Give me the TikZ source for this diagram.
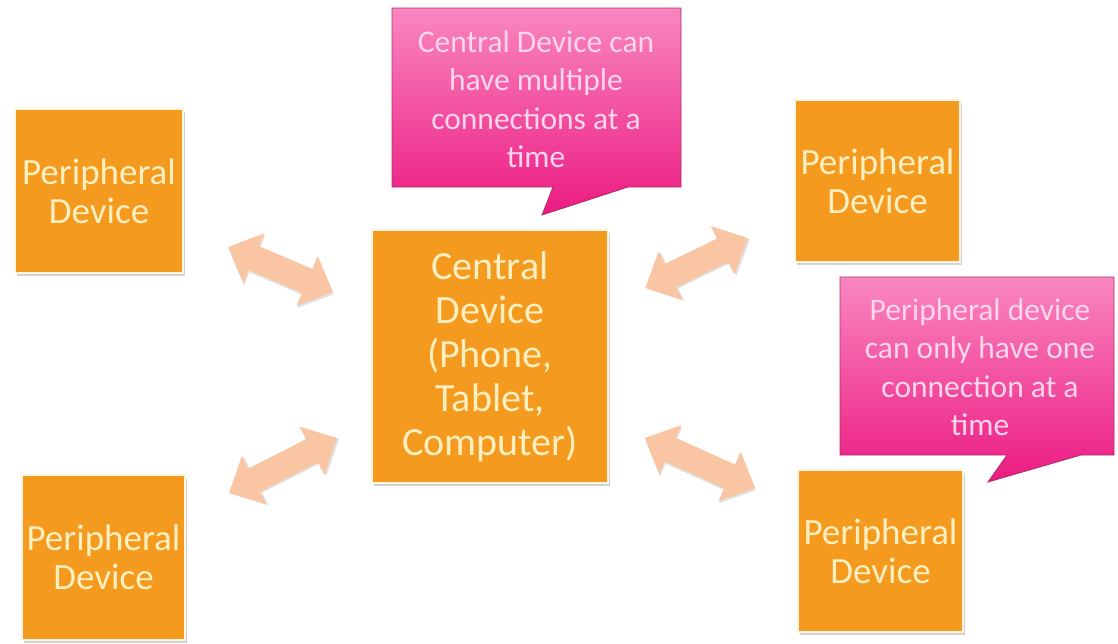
\documentclass[tikz,border=0pt]{standalone}
\usepackage{fontspec}
\setmainfont{Carlito}
\usetikzlibrary{shadows}
\definecolor{boxorange}{HTML}{F39A1F}
\definecolor{boxtext}{HTML}{FDEFC0}
\definecolor{boxedge}{HTML}{FFF6E2}
\definecolor{arrowpeach}{HTML}{F9C5A2}
\definecolor{calltop}{HTML}{F987BF}
\definecolor{callbot}{HTML}{EC1A82}
\definecolor{calledge}{HTML}{A8306C}
\definecolor{calltextc}{HTML}{FCD6EA}
\tikzset{
  devbox/.style={rectangle, fill=boxorange, draw=boxedge, line width=1.5pt,
    text=boxtext, align=center, inner sep=0pt,
    drop shadow={shadow xshift=2pt, shadow yshift=-3pt, fill=black!40, opacity=0.45}},
  perifont/.style={font=\fontsize{37}{39}\selectfont},
  centfont/.style={font=\fontsize{40}{44}\selectfont},
  callshape/.style={draw=calledge, line width=0.8pt, top color=calltop, bottom color=callbot},
  calltext/.style={text=calltextc, align=center, inner sep=0pt, font=\fontsize{31.5}{38.5}\selectfont},
  pics/dblarrow/.style={code={
    \fill[black!30, opacity=0.4, shift={(1.5,1.8)}]
      (-#1/2,0) -- (-#1/2+28,-27) -- (-#1/2+28,-13) -- (#1/2-28,-13) -- (#1/2-28,-27) --
      (#1/2,0) -- (#1/2-28,27) -- (#1/2-28,13) -- (-#1/2+28,13) -- (-#1/2+28,27) -- cycle;
    \fill[arrowpeach]
      (-#1/2,0) -- (-#1/2+28,-27) -- (-#1/2+28,-13) -- (#1/2-28,-13) -- (#1/2-28,-27) --
      (#1/2,0) -- (#1/2-28,27) -- (#1/2-28,13) -- (-#1/2+28,13) -- (-#1/2+28,27) -- cycle;
  }}
}
\begin{document}
\begin{tikzpicture}[x=1pt, y=-1pt]
  \fill[white] (0,0) rectangle (1118,643);
  \useasboundingbox (0,0) rectangle (1118,643);

  % device boxes
  \node[devbox, perifont, minimum width=168pt, minimum height=164pt] (p1) at (99,191) {Peripheral\\Device};
  \node[devbox, perifont, minimum width=163pt, minimum height=165pt] (p2) at (103.5,557.5) {Peripheral\\Device};
  \node[devbox, perifont, minimum width=165pt, minimum height=162pt] (p3) at (877.5,181) {Peripheral\\Device};
  \node[devbox, perifont, minimum width=165pt, minimum height=162pt] (p4) at (880.5,551) {Peripheral\\Device};
  \node[devbox, centfont, minimum width=236pt, minimum height=253pt] (c) at (490,356.5) {Central\\Device\\(Phone,\\Tablet,\\Computer)};

  % double block arrows
  \pic (a1) [rotate=-23.2] at (280.5,269.5) {dblarrow=114};
  \pic (a2) [rotate=27]    at (283,465.5)   {dblarrow=121};
  \pic (a3) [rotate=25.9]  at (696.5,263)   {dblarrow=114};
  \pic (a4) [rotate=-24.4] at (700,463)     {dblarrow=121};

  % callouts
  \path[callshape] (392,8) -- (681,8) -- (681,187) -- (628,187) -- (542,215) -- (553,187) -- (392,187) -- cycle;
  \node[calltext] (t1) at (536,99) {Central Device can\\have multiple\\connections at a\\time};

  \path[callshape] (840,277) -- (1114,277) -- (1114,455) -- (1081,455) -- (988,482) -- (1007,455) -- (840,455) -- cycle;
  \node[calltext] (t2) at (980,367) {Peripheral device\\can only have one\\connection at a\\time};
\end{tikzpicture}
\end{document}
